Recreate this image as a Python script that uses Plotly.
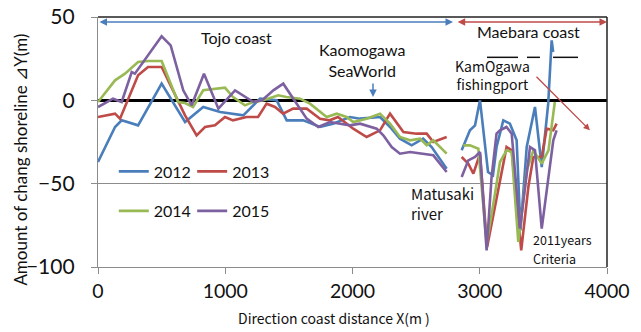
import plotly.graph_objects as go

# Shoreline change (m) along the coast, relative to the 2011 survey.
# None separates the Tojo coast stretch from the Maebara coast stretch.
x_2012 = [0, 134, 186, 315, 500, 684, 827, 960, 1142, 1273, 1404, 1483, 1613, 1745, 1847, 1980,
          2059, 2216, 2295, 2373, 2465, 2555, 2622, 2740, None,
          2858, 2923, 2963, 3002, 3065, 3104, 3132, 3185, 3237, 3290, 3320, 3369, 3434, 3487, 3538, 3565, 3577]
y_2012 = [-37, -16, -12, -15, 10, -13, -4, -7, -9, 1, 0, -12, -12, -16, -14, -10,
          -11, -10, -16, -23, -27, -23, -28, -41, None,
          -30, -18, -15, 0, -43, -45, -28, -12, -14, -24, -78, -28, -4, -40, -2, 36, 29]

x_2013 = [0, 134, 173, 315, 393, 500, 684, 775, 841, 919, 998, 1061, 1168, 1258, 1325, 1391, 1455,
          1533, 1640, 1745, 1820, 1886, 2006, 2111, 2216, 2295, 2400, 2504, 2583, 2635, 2740, None,
          2858, 2910, 2950, 3002, 3058, 3146, 3211, 3251, 3326, 3382, 3421, 3487, 3526, 3578, 3604]
y_2013 = [-10, -8, -11, 15, 20, 20, -9, -21, -16, -15, -10, -12, -10, -10, -2, -4, -8,
          -5, -5, -11, -12, -10, -17, -22, -18, -8, -19, -20, -20, -25, -22, None,
          -34, -38, -44, -32, -88, -54, -28, -30, -90, -52, -34, -34, -17, -18, -14]

x_2014 = [0, 134, 212, 315, 393, 500, 629, 684, 747, 827, 998, 1061, 1155, 1218, 1300, 1416, 1480,
          1587, 1666, 1797, 1876, 1954, 2006, 2111, 2216, 2295, 2373, 2452, 2530, 2583, 2635, 2740, None,
          2871, 2923, 2989, 3054, 3120, 3159, 3211, 3251, 3303, 3370, 3421, 3487, 3540, 3590]
y_2014 = [-1, 12, 16, 23, 23.6, 23.6, -1, -1.6, -4, 6, 7.6, 2, -3, -1, 0, 3, 2,
          1, -2, -10, -8, -10, -13, -11, -8, -14, -22, -24, -23, -27, -24, -32, None,
          -27, -27, -29, -86, -56, -37, -30, -31, -85, -42, -30, -38, -30, -1]

x_2015 = [0, 118, 186, 265, 290, 500, 571, 670, 736, 833, 946, 1077, 1221, 1290, 1378, 1456, 1535,
          1640, 1731, 1823, 1980, 2059, 2190, 2242, 2308, 2373, 2452, 2570, 2635, 2740, None,
          2858, 2910, 2963, 3002, 3054, 3093, 3132, 3159, 3210, 3251, 3316, 3395, 3434, 3487, 3578, 3604]
y_2015 = [-4, 1, -1, 17, 16, 38.4, 33, 6, -3, 16, -5, 6, -1, 0, 6, 10, 1,
          -11, -16, -13, -15, -14, -17, -21, -28, -32, -31, -32, -33, -43, None,
          -46, -36, -34, -31, -90, -46, -20, -18, -16, -20, -77, -28, -30, -77, -24, -18]

years = ["2012", "2013", "2014", "2015"]
series_x = [x_2012, x_2013, x_2014, x_2015]
series_y = [y_2012, y_2013, y_2014, y_2015]
colors = ["#4A7EBB", "#BE4B48", "#98B954", "#7D60A0"]
legend_ids = ["legend", "legend2", "legend3", "legend4"]

x_ticks = [0, 1000, 2000, 3000, 4000]
y_ticks = [-100, -50, 0, 50]

NUM_FONT = "Lato"
JP_FONT = "Noto Sans CJK JP"

fig = go.Figure()
for name, xs, ys, c, lg in zip(years, series_x, series_y, colors, legend_ids):
    fig.add_trace(go.Scatter(
        x=xs, y=ys, name=name, mode="lines", connectgaps=False,
        line=dict(color=c, width=2.6), legend=lg,
    ))

# one legend box per year, laid out as a 2 x 2 block inside the plot
legend_style = dict(orientation="h", xanchor="left", yanchor="middle",
                    bgcolor="rgba(0,0,0,0)", font=dict(family=NUM_FONT, size=16, color="#111"),
                    itemwidth=30)
col_x = [0.031, 0.185]
row_y = [0.382, 0.224]

fig.update_layout(
    width=641, height=332,
    margin=dict(l=98, r=34, t=17, b=65, autoexpand=False),
    paper_bgcolor="white", plot_bgcolor="white",
    showlegend=True,
    legend=dict(x=col_x[0], y=row_y[0], **legend_style),
    legend2=dict(x=col_x[1], y=row_y[0], **legend_style),
    legend3=dict(x=col_x[0], y=row_y[1], **legend_style),
    legend4=dict(x=col_x[1], y=row_y[1], **legend_style),
    xaxis=dict(range=[0, 4000], tickvals=x_ticks, showgrid=False, zeroline=False, automargin=False,
               showline=True, linecolor="#8C8C8C", linewidth=1.3,
               ticks="outside", ticklen=6, tickcolor="#8C8C8C",
               tickfont=dict(family=NUM_FONT, size=19.5, color="#111")),
    yaxis=dict(range=[-100, 50], tickvals=y_ticks, showgrid=True, gridcolor="#8C8C8C", gridwidth=1,
               zeroline=True, zerolinecolor="black", zerolinewidth=2.5, automargin=False,
               showline=True, linecolor="#8C8C8C", linewidth=1.3,
               ticks="outside", ticklen=6, tickcolor="#8C8C8C", ticklabelstandoff=12,
               tickfont=dict(family=NUM_FONT, size=21, color="#111")),
)

# plot-area frame on the top and right
fig.add_shape(type="line", xref="paper", yref="paper", x0=0, x1=1, y0=1, y1=1,
              line=dict(color="#222", width=1.5))
fig.add_shape(type="line", xref="paper", yref="paper", x0=1, x1=1, y0=0, y1=1,
              line=dict(color="#222", width=1.5))

# axis titles
fig.add_annotation(text="Direction coast distance X(m )", xref="paper", yref="paper",
                   x=0.464, y=-0.204, xanchor="center", yanchor="middle", showarrow=False,
                   font=dict(family=JP_FONT, size=14, color="#111"))
fig.add_annotation(text="Amount of chang shoreline ⊿Y(m)", xref="paper", yref="paper",
                   x=-0.153, y=0.43, xanchor="center", yanchor="middle", showarrow=False,
                   textangle=-90, font=dict(family=NUM_FONT, size=17, color="#111"))

# coast extents
fig.add_annotation(x=2790, y=47, ax=0, ay=47, xref="x", yref="y", axref="x", ayref="y",
                   text="", showarrow=True, arrowside="end+start", arrowhead=2, arrowsize=1,
                   arrowwidth=1.5, arrowcolor="#4A7EBB")
fig.add_annotation(x=4000, y=47, ax=2815, ay=47, xref="x", yref="y", axref="x", ayref="y",
                   text="", showarrow=True, arrowside="end+start", arrowhead=2, arrowsize=1,
                   arrowwidth=1.5, arrowcolor="#BE4B48")

fig.add_annotation(text="Tojo coast", x=1090, y=38, xref="x", yref="y", showarrow=False,
                   font=dict(family=NUM_FONT, size=16, color="#111"))
fig.add_annotation(text="Maebara coast", x=3385, y=41.4, xref="x", yref="y", showarrow=False,
                   font=dict(family=NUM_FONT, size=16, color="#111"))
fig.add_annotation(text="Kaomogawa<br>SeaWorld", x=2075, y=24, xref="x", yref="y", showarrow=False,
                   font=dict(family=NUM_FONT, size=16, color="#111"))
fig.add_annotation(x=2161, y=2, ax=2161, ay=11, xref="x", yref="y", axref="x", ayref="y",
                   text="", showarrow=True, arrowhead=2, arrowsize=1, arrowwidth=1.5,
                   arrowcolor="#4A7EBB")

fig.add_annotation(text="KamOgawa<br>fishingport", x=3100, y=15, xref="x", yref="y", showarrow=False,
                   font=dict(family=JP_FONT, size=14, color="#111"))
for x0, x1 in [(3057, 3301), (3371, 3473), (3576, 3772)]:
    fig.add_shape(type="line", xref="x", yref="y", x0=x0, x1=x1, y0=25.8, y1=25.8,
                  line=dict(color="#111", width=1.5))
fig.add_annotation(x=3866, y=-18, ax=3434, ay=15, xref="x", yref="y", axref="x", ayref="y",
                   text="", showarrow=True, arrowhead=2, arrowsize=1, arrowwidth=1.3,
                   arrowcolor="#BE4B48")

fig.add_annotation(text="Matusaki<br>river", x=2444, y=-62, xref="x", yref="y", showarrow=False,
                   xanchor="left", align="left", font=dict(family=JP_FONT, size=15, color="#111"))
fig.add_annotation(text="2011years", x=3411, y=-83.5, xref="x", yref="y", showarrow=False,
                   xanchor="left", yanchor="middle", borderpad=0,
                   font=dict(family=JP_FONT, size=12.5, color="#111"))
fig.add_annotation(text="Criteria", x=3411, y=-95, xref="x", yref="y", showarrow=False,
                   xanchor="left", yanchor="middle", borderpad=0,
                   font=dict(family=JP_FONT, size=12.5, color="#111"))

fig.write_html("out.html")
